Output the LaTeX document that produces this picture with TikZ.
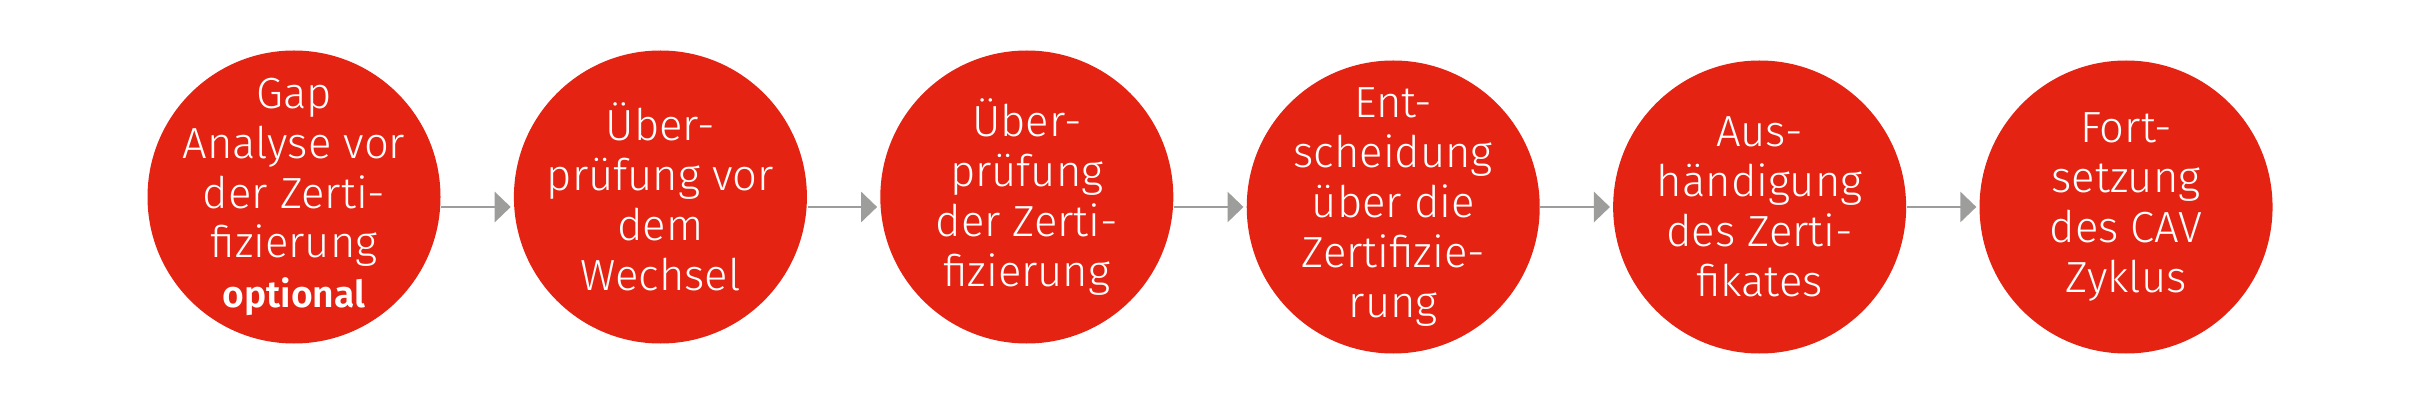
\documentclass[tikz,border=0pt]{standalone}
\usepackage{fontspec}
\setmainfont{Fira Sans}[UprightFont=* Light, BoldFont=* SemiBold]
\usepackage{xcolor}
\usepackage{tikz}
\usetikzlibrary{positioning,arrows.meta}
\definecolor{cavred}{HTML}{E42313}
\definecolor{cavgray}{HTML}{9D9D9C}

\begin{document}
\begin{tikzpicture}[
  phase/.style={circle, fill=cavred, minimum size=29.3mm, inner sep=0pt},
  txt/.style={text=white, align=center, inner sep=0pt, font=\fontsize{12.4}{14.2}\selectfont},
  flow/.style={draw=cavgray, line width=0.85pt, shorten >=0.25mm, -{Triangle[length=1.6mm, width=3mm]}},
  node distance=7.2mm]
\useasboundingbox (0,0) rectangle (24.17,4.04);
\node[phase, label={[txt]center:Gap\\Analyse vor\\der Zerti-\\fizierung\\{\bfseries\fontsize{10.6}{14.2}\selectfont optional}}] (gap) at (2.94,2.07) {};
\node[phase, right=of gap, label={[txt]center:Über-\\prüfung vor\\dem\\Wechsel}] (wechsel) {};
\node[phase, right=of wechsel, label={[txt]center:Über-\\prüfung\\der Zerti-\\fizierung}] (pruefung) {};
\node[phase, right=of pruefung, yshift=-1mm, label={[txt]center:Ent-\\scheidung\\über die\\Zertifizie-\\rung}] (entscheid) {};
\node[phase, right=of entscheid, label={[txt]center:Aus-\\händigung\\des Zerti-\\fikates}] (aushaend) {};
\node[phase, right=of aushaend, label={[txt]center:Fort-\\setzung\\des CAV\\Zyklus}] (fortsetz) {};
\draw[flow] ([yshift=-1mm]gap.east) -- ([yshift=-1mm]wechsel.west);
\draw[flow] ([yshift=-1mm]wechsel.east) -- ([yshift=-1mm]pruefung.west);
\draw[flow] ([yshift=-1mm]pruefung.east) -- (entscheid.west);
\draw[flow] (entscheid.east) -- (aushaend.west);
\draw[flow] (aushaend.east) -- (fortsetz.west);
\end{tikzpicture}
\end{document}
